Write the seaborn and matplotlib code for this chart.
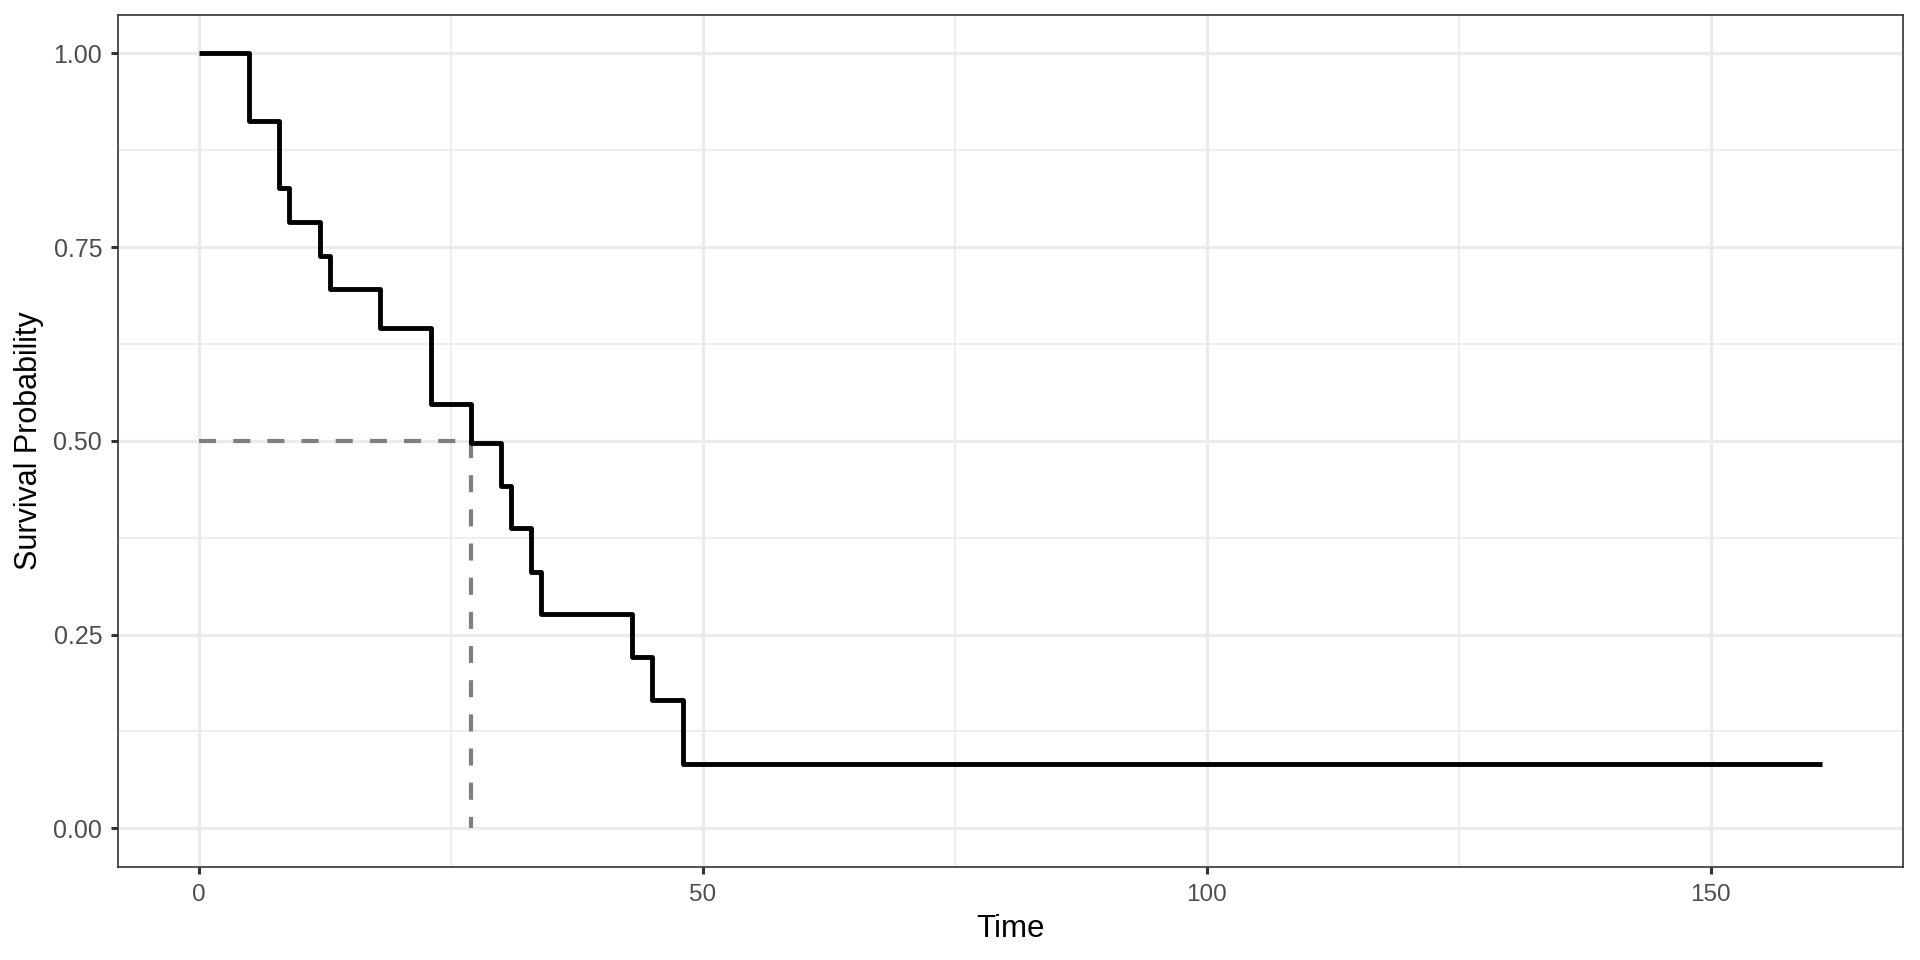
import matplotlib
matplotlib.use("Agg")
import matplotlib.pyplot as plt
import seaborn as sns
import pandas as pd
import numpy as np

# Kaplan-Meier step curve
step_time = [0, 5, 8, 9, 12, 13, 18, 23, 27, 30, 31, 33, 34, 43, 45, 48, 161]
step_surv = [1.000, 0.913, 0.826, 0.783, 0.739, 0.696, 0.646, 0.547, 0.497,
             0.442, 0.387, 0.331, 0.276, 0.221, 0.166, 0.083, 0.083]
median_time = 27
median_surv = 0.5

x_ticks = [0, 50, 100, 150]
x_tick_labels = ["0", "50", "100", "150"]
y_ticks = [0.0, 0.25, 0.5, 0.75, 1.0]
y_tick_labels = ["0.00", "0.25", "0.50", "0.75", "1.00"]

sns.set_theme(style="white")
plt.rcParams['font.family'] = ['Liberation Sans', 'DejaVu Sans']

fig = plt.figure(figsize=(19.2, 9.6), dpi=100)
ax = fig.add_axes([0.0612, 0.0969, 0.9299, 0.8878])

# grid (theme_bw)
for v in [25, 75, 125]:
    ax.axvline(v, color="#EBEBEB", lw=1.2, zorder=0)
for v in [0.125, 0.375, 0.625, 0.875]:
    ax.axhline(v, color="#EBEBEB", lw=1.2, zorder=0)
for v in x_ticks:
    ax.axvline(v, color="#EBEBEB", lw=2.3, zorder=0)
for v in y_ticks:
    ax.axhline(v, color="#EBEBEB", lw=2.3, zorder=0)

km = pd.DataFrame({"Time": step_time, "Survival": step_surv})
sns.lineplot(data=km, x="Time", y="Survival", drawstyle="steps-post",
             estimator=None, sort=False, color="black", lw=3.5, ax=ax, zorder=3)
ax.lines[-1].set_solid_capstyle("butt")

# median reference segments (horizontal and vertical, drawn separately)
n_before = len(ax.lines)
med = pd.DataFrame({"Time": [0, median_time, median_time, median_time],
                    "Survival": [median_surv, median_surv, median_surv, 0],
                    "seg": [0, 0, 1, 1]})
sns.lineplot(data=med, x="Time", y="Survival", units="seg", estimator=None,
             sort=False, color="#7F7F7F", lw=3.0, ax=ax, zorder=2)
for ln in ax.lines[n_before:]:
    ln.set_linestyle((0, (4.1, 4.1)))
    ln.set_dash_capstyle("butt")

ax.set_xlim(-8.05, 169.05)
ax.set_ylim(-0.05, 1.05)
ax.set_xticks(x_ticks)
ax.set_xticklabels(x_tick_labels)
ax.set_yticks(y_ticks)
ax.set_yticklabels(y_tick_labels)
ax.tick_params(axis="both", which="major", length=5.2, width=2.2, color="#333333",
               labelcolor="#4D4D4D", direction="out", bottom=True, left=True)
ax.tick_params(axis="y", labelsize=18, pad=5.8)
ax.tick_params(axis="x", labelsize=17.5, pad=7)
ax.set_xlabel("Time", fontsize=22.5, color="black", labelpad=5.5)
ax.set_ylabel("Survival Probability", fontsize=22, color="black", labelpad=7)
ax.grid(False)
for s in ax.spines.values():
    s.set_color("#333333")
    s.set_linewidth(1.2)
    s.set_visible(True)

fig.savefig("out.png", dpi=100)
